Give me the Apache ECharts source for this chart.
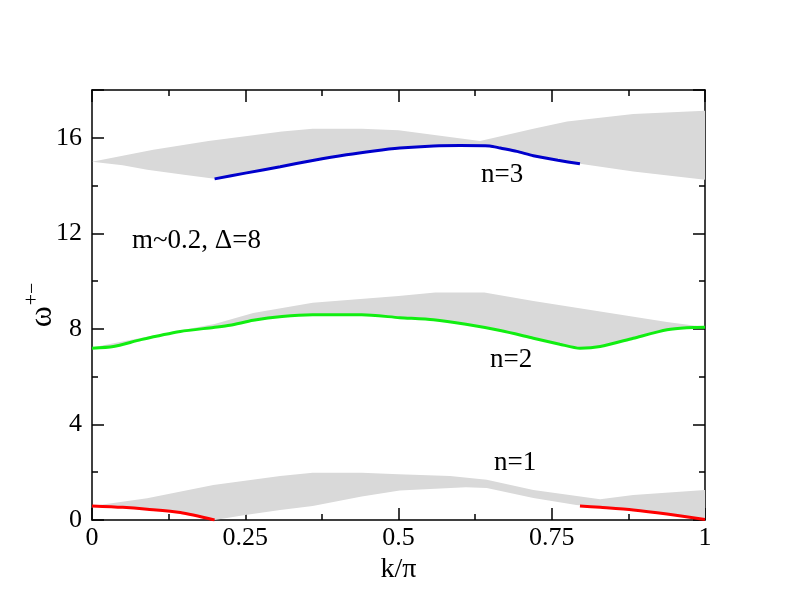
<!DOCTYPE html>
<html>
<head>
<meta charset="utf-8">
<script src="https://cdn.jsdelivr.net/npm/echarts@6/dist/echarts.min.js"></script>
<style>
  html, body { margin: 0; padding: 0; background: #fff; }
  #chart { width: 792px; height: 612px; }
</style>
</head>
<body>
<div id="chart"></div>
<script>
// ---------------- data (k/pi , omega) ----------------
// n=1 : red segments = lower edge of band
const redK1 = [0, 0.05, 0.09, 0.144, 0.2];
const redW1 = [0.59, 0.53, 0.45, 0.31, 0.0];
const redK2 = [0.796, 0.829, 0.883, 0.938, 1];
const redW2 = [0.59, 0.53, 0.42, 0.25, 0.02];
const band1UpK = [0, 0.09, 0.198, 0.307, 0.36, 0.44, 0.5, 0.584, 0.644, 0.72, 0.829, 0.883, 1];
const band1UpW = [0.59, 0.91, 1.47, 1.84, 1.98, 1.98, 1.92, 1.84, 1.68, 1.26, 0.87, 1.05, 1.26];
const band1LoK = [0, 0.05, 0.09, 0.144, 0.2, 0.25, 0.307, 0.36, 0.44, 0.502, 0.61, 0.644, 0.72, 0.79, 0.829, 0.883, 0.938, 1];
const band1LoW = [0.59, 0.53, 0.45, 0.31, 0.0, 0.21, 0.42, 0.59, 0.98, 1.23, 1.37, 1.34, 0.92, 0.63, 0.53, 0.42, 0.25, 0.02];

// n=2 : green line = lower edge of band
const greenK = [0, 0.035, 0.08, 0.144, 0.198, 0.225, 0.263, 0.31, 0.36, 0.44, 0.502, 0.557, 0.61, 0.666, 0.72, 0.763, 0.796, 0.829, 0.883, 0.938, 0.97, 1];
const greenW = [7.19, 7.26, 7.55, 7.89, 8.06, 8.15, 8.36, 8.52, 8.59, 8.59, 8.47, 8.38, 8.19, 7.93, 7.61, 7.36, 7.19, 7.26, 7.61, 7.96, 8.05, 8.07];
const band2UpK = [0, 0.1, 0.2, 0.263, 0.36, 0.5, 0.56, 0.64, 0.72, 0.829, 0.938, 1];
const band2UpW = [7.22, 7.72, 8.2, 8.67, 9.09, 9.38, 9.52, 9.52, 9.17, 8.73, 8.29, 8.08];

// n=3 : blue line = lower edge of band between k=0.2 and 0.8
const blueK = [0.2, 0.25, 0.307, 0.36, 0.415, 0.46, 0.502, 0.557, 0.6, 0.649, 0.666, 0.693, 0.72, 0.76, 0.796];
const blueW = [14.28, 14.52, 14.79, 15.05, 15.29, 15.45, 15.57, 15.66, 15.68, 15.66, 15.57, 15.43, 15.25, 15.06, 14.91];
const band3UpK = [0, 0.1, 0.19, 0.31, 0.36, 0.44, 0.5, 0.633, 0.72, 0.775, 0.883, 1];
const band3UpW = [15.0, 15.5, 15.87, 16.26, 16.38, 16.38, 16.31, 15.87, 16.38, 16.68, 17.0, 17.13];
const band3LoK = [0, 0.05, 0.09, 0.15, 0.2, 0.25, 0.307, 0.36, 0.415, 0.46, 0.502, 0.557, 0.6, 0.649, 0.666, 0.693, 0.72, 0.76, 0.796, 0.883, 1];
const band3LoW = [15.0, 14.85, 14.66, 14.45, 14.28, 14.52, 14.79, 15.05, 15.29, 15.45, 15.57, 15.66, 15.68, 15.66, 15.57, 15.43, 15.25, 15.06, 14.91, 14.59, 14.24];

// axis ticks
const xTicks = ['0', '0.25', '0.5', '0.75', '1'];
const yTicks = ['0', '4', '8', '12', '16'];

const FONT = '"Liberation Serif", "DejaVu Serif", serif';
const pairs = (ks, ws) => ks.map((k, i) => [k, ws[i]]);

const bands = [
  { up: pairs(band1UpK, band1UpW), lo: pairs(band1LoK, band1LoW) },
  { up: pairs(band2UpK, band2UpW), lo: pairs(greenK, greenW) },
  { up: pairs(band3UpK, band3UpW), lo: pairs(band3LoK, band3LoW) }
];

const bandSeries = bands.map(b => ({
  type: 'custom',
  silent: true,
  z: 1,
  data: [[0, 0]],
  renderItem: (params, api) => {
    const pts = b.up.map(p => api.coord(p))
      .concat(b.lo.slice().reverse().map(p => api.coord(p)));
    return { type: 'polygon', shape: { points: pts }, style: { fill: '#d9d9d9', stroke: null } };
  }
}));

const lineSeries = (data, color) => ({
  type: 'line', data, showSymbol: false, symbol: 'none', z: 3, silent: true,
  smooth: 0.25,
  lineStyle: { color, width: 3 }
});

// every axis gets its own copy of the frame style
const frame = extra => Object.assign({
  axisLine: { show: true, onZero: false, lineStyle: { color: '#000', width: 1.5 } },
  axisTick: { show: true, inside: true, length: 12, lineStyle: { color: '#000', width: 1.5 } },
  minorTick: { show: true, splitNumber: 2, length: 6, lineStyle: { color: '#000', width: 1.5 } },
  splitLine: { show: false },
  minorSplitLine: { show: false }
}, extra);

const chart = echarts.init(document.getElementById('chart'));
chart.setOption({
  animation: false,
  backgroundColor: '#fff',
  grid: { left: 92, right: 87, top: 90, bottom: 92, containLabel: false },
  xAxis: [
    frame({
      type: 'value', position: 'bottom', min: 0, max: 1, interval: 0.25,
      axisLabel: { color: '#000', fontFamily: FONT, fontSize: 26, margin: 5,
        formatter: v => xTicks[Math.round(v / 0.25)] },
      name: 'k/π', nameLocation: 'middle', nameGap: 36, nameMoveOverlap: false,
      nameTextStyle: { color: '#000', fontFamily: FONT, fontSize: 28 }
    }),
    frame({
      type: 'value', position: 'top', min: 0, max: 1, interval: 0.25,
      axisLabel: { show: false }
    })
  ],
  yAxis: [
    frame({
      type: 'value', position: 'left', min: 0, max: 18, interval: 4,
      axisLabel: { color: '#000', fontFamily: FONT, fontSize: 26, margin: 10,
        formatter: v => (v % 4 === 0 && v <= 16) ? yTicks[v / 4] : '' },
      name: '{a|ω}{b|+−}', nameLocation: 'middle', nameGap: 33, nameRotate: 90,
      nameMoveOverlap: false,
      nameTextStyle: {
        color: '#000', fontFamily: FONT,
        rich: {
          a: { fontFamily: FONT, fontSize: 32, color: '#000', verticalAlign: 'bottom', lineHeight: 32 },
          b: { fontFamily: FONT, fontSize: 20, color: '#000', verticalAlign: 'bottom', padding: [0, 0, 16, 1] }
        }
      }
    }),
    frame({
      type: 'value', position: 'right', min: 0, max: 18, interval: 4,
      axisLabel: { show: false }
    })
  ],
  series: bandSeries.concat([
    lineSeries(pairs(redK1, redW1), '#ff0000'),
    lineSeries(pairs(redK2, redW2), '#ff0000'),
    lineSeries(pairs(greenK, greenW), '#11ee11'),
    lineSeries(pairs(blueK, blueW), '#0000cc')
  ]),
  graphic: [
    { type: 'text', left: 132, top: 227, style: { text: 'm~0.2, Δ=8', fill: '#000', font: '27px ' + FONT } },
    { type: 'text', left: 481, top: 161, style: { text: 'n=3', fill: '#000', font: '27px ' + FONT } },
    { type: 'text', left: 490, top: 346, style: { text: 'n=2', fill: '#000', font: '27px ' + FONT } },
    { type: 'text', left: 494, top: 449, style: { text: 'n=1', fill: '#000', font: '27px ' + FONT } }
  ]
});
</script>
</body>
</html>
